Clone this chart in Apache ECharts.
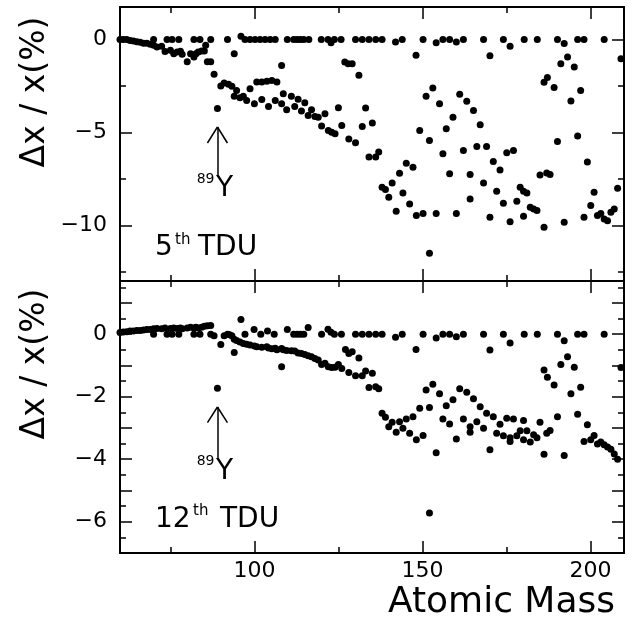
<!DOCTYPE html>
<html>
<head>
<meta charset="utf-8">
<script src="https://cdn.jsdelivr.net/npm/echarts@6/dist/echarts.min.js"></script>
<style>
html,body{margin:0;padding:0;background:#fff;}
#chart{width:633px;height:632px;}
</style>
</head>
<body>
<div id="chart"></div>
<script>
// ---------- data: [atomic mass, Δx/x (%)] ----------
const tdu5Light = [[60,0],[61,0],[62,0],[63,-0.05],[64,-0.08],[65,-0.12],[66,-0.15],[67,-0.2],[68,-0.2],[69,-0.25],
[70,0],[70,-0.31],[71,-0.4],[72.4,-0.36],[73.4,-0.65],[74,0],[75,-0.58],[75.5,0],[76,-0.76],[77,-0.67],[77.5,0],[78,-0.63],[78.5,-0.8],[80,-1.2],[81,-0.76],[82,-0.94],[82,0],[82.6,-0.76],[83.3,-0.67],[83.8,0],[84.3,-0.62],[85.1,-0.62],[85.5,-0.31],[86,-1.2],[87,-1.2],[87,0],[88,-1.87],[89,-3.72],[90,-2.5],[91,-2.34],[92,0],[92.3,-2.41],[93.3,-2.52],[94,-0.76],[94,-3.06],[94.7,-2.74],[96,0.18],[95.7,-3.13],[96.7,-3.06],[97.2,0],[97.7,-3.28],[98.7,-2.65],[98.7,0]];
const tdu5Mid = [[100,-3.46],[100.2,0],[100.7,-2.29],[101.7,0],[102.2,-2.29],[102.2,-3.23],[103.2,0],[103.7,-2.25],[104.2,-3.6],[104.7,0],[105.2,-2.2],[106.2,0],[106.2,-3.28],[106.7,-2.29],[108.1,-1.4],[108.1,-3.46],[108.6,-2.92],[109.6,-3.78],[109.8,0],[111,-3.06],[111.7,0],[112,-3.6],[112.7,0],[113,-3.22],[113.7,0],[114,-3.85],[114.7,0],[115,-3.4],[116,-4.09],[116.2,0],[117,-3.78],[118,-4.14],[119,-4.18],[119.9,0],[120,-4.66],[121,-4.0],[121.9,0],[122,-4.9],[122.8,-0.18],[123,-4.99],[123.8,0],[124,-5.07],[125,-3.67],[125.8,0],[126,-4.63],[126.9,-1.21],[127.9,-1.3],[128.1,-5.35],[129.1,-1.3],[130.1,0],[130.1,-5.56],[131.1,-1.93],[132.1,0],[132.1,-4.68],[133.1,-3.69],[134.1,0],[134.1,-6.33],[135.1,-4.5],[136.1,0],[136.1,-6.33],[137,-6.06],[138,0],[138,-7.95],[139,-8.08],[140,-8.49],[141,-7.72],[142,-0.13],[142.2,-9.25],[143.2,-7.2],[144,0],[144.2,-8.26],[145.2,-6.66],[146.2,-8.85],[147.2,-6.88],[148.1,-0.85],[148.2,-9.48],[149.2,-4.9]];
const tdu5Heavy = [[150.2,0],[150.2,-9.36],[151.1,-3.06],[152.1,-5.43],[152.1,-11.5],[153.1,-2.61],[154.1,-0.18],[154.1,-9.36],[155.1,-3.46],[156.1,0],[156.1,-6.15],[157.1,-4.8],[158.1,0],[158.1,-7.23],[159.1,-4.18],[160.1,-0.13],[160.1,-9.36],[161.1,-2.95],[162.2,0],[162.2,-5.97],[163.2,-3.33],[164.2,-7.27],[164.2,-8.58],[165.2,-3.82],[166.2,-5.76],[167.2,-4.59],[168.2,0],[168.2,-7.72],[169.1,-5.76],[170.1,-0.88],[170.1,-9.57],[171.1,-6.57],[172.1,-8.17],[173.1,-7.02],[174.1,0],[174.1,-8.82],[175.1,-6.1],[176.1,-0.36],[176.1,-9.81],[177.1,-5.97],[178.1,-8.71],[179.1,-7.95],[180.1,-8.17],[180.1,-9.52],[180.3,0],[181.1,-8.26],[182.1,-9.03],[183.1,-9.12],[184.1,-9.21],[184.2,0],[185,-7.29],[186.2,-2.3],[186.2,-10.11],[187,-7.18],[187.2,-2.05],[188,-7.27],[189.2,-2.59],[190.2,0],[190.2,-5.49],[191.2,-1.3],[192.2,-0.22],[192.2,-9.84],[193.2,-0.94],[194.2,-3.31],[195.2,-1.48],[196.2,0],[196.2,-5.2],[197.1,-2.74],[198.1,0],[198.1,-9.57],[199.1,-6.6],[200.1,-8.94],[201.1,-8.22],[202.1,-9.48],[203.1,-9.36],[204.1,0],[204.1,-9.66],[205.1,-9.75],[206.1,-9.3],[207.1,-9.12],[208.1,-8.01],[209.1,-1.04]];

const tdu12Light = [[60,0.05],[61,0.07],[62,0.08],[63,0.1],[64,0.1],[65,0.12],[66,0.12],[67,0.13],[68,0.15],[69,0.15],[70,0.17],[71,0.18],[72.4,0.17],[73.4,0.2],[75,0.18],[76,0.2],[77,0.18],[78,0.2],[78.5,0.17],[80,0.2],[81,0.22],[82,0.2],[82.6,0.22],[83.3,0.2],[84.3,0.22],[85.1,0.25],[86,0.27],[87,0.28],
[70,0],[74,0],[75.5,0],[77.5,0],[82,0],[83.8,0],[87,0],[88,-0.05],[89,-1.73],[90,-0.33],[91,-0.05],[92,0],[92.6,-0.02],[93.3,-0.05],[94,-0.59],[94,-0.16],[94.7,-0.2],[95.7,-0.25],[96,0.47],[96.7,-0.3],[97.2,0],[97.7,-0.32],[98.7,-0.35],[99.9,0.15]];
const tdu12Mid = [[100,-0.38],[100.7,-0.4],[101.9,0],[102.2,-0.42],[103.7,-0.4],[103.9,0.1],[104.2,-0.44],[105.2,-0.47],[105.9,0],[106.2,-0.45],[106.7,-0.5],[108.1,-1.04],[108.1,-0.46],[108.6,-0.5],[109.6,-0.52],[109.8,0.15],[111,-0.53],[111.7,0],[112,-0.54],[112.7,0],[113,-0.6],[113.7,0],[114,-0.62],[114.7,0],[115,-0.65],[116,0.21],[116,-0.69],[117,-0.72],[118,-0.78],[119,-0.83],[120,0],[120,-0.97],[121,-0.93],[121.9,0.16],[122,-1.04],[122.8,0.06],[123,-1.07],[123.8,0],[124,-1.06],[125,-0.97],[125.9,0],[126,-1.1],[127.1,-0.49],[128.1,-0.62],[128.1,-1.23],[129.1,-0.56],[130.1,0],[130.1,-1.33],[131.1,-0.76],[132.1,0],[132.1,-1.33],[133.1,-1.18],[134.1,0],[134.1,-1.71],[135.1,-1.25],[136.1,0],[136.1,-1.68],[137,-1.75],[138,0],[138,-2.53],[139,-2.66],[140,-2.96],[141,-2.82],[142,-0.1],[142.2,-3.14],[143.2,-2.8],[144,0],[144.2,-3.01],[145.2,-2.71],[146.2,-3.17],[147.2,-2.64],[148.1,-0.49],[148.2,-3.38],[149.2,-2.37]];
const tdu12Heavy = [[150.2,0],[150.2,-3.24],[151.1,-1.79],[152.1,-2.35],[152.1,-5.72],[153.1,-1.6],[154.1,-0.12],[154.1,-3.79],[155.1,-1.91],[156.1,0],[156.1,-2.71],[157.1,-2.29],[158.1,0],[158.1,-2.87],[159.1,-2.1],[160.1,-0.08],[160.1,-3.35],[161.1,-1.75],[162.2,0],[162.2,-2.71],[163.2,-1.86],[164.2,-2.96],[164.2,-3.14],[165.2,-2.07],[166.2,-2.8],[167.2,-2.32],[168.2,0],[168.2,-3.01],[169.1,-2.53],[170.1,-0.51],[170.1,-3.7],[171.1,-2.64],[172.1,-3.17],[173.1,-2.88],[174.1,0],[174.1,-3.25],[175.1,-2.69],[176.1,-0.28],[176.1,-3.31],[176.1,-3.43],[177.1,-2.71],[178.1,-3.25],[179.1,-3.09],[180.1,-2.76],[180.1,-3.38],[180.3,0],[181.1,-3.09],[182.1,-3.45],[183.1,-3.22],[184.1,-3.31],[184.2,0],[185,-2.82],[186.2,-1.15],[186.2,-3.84],[187,-3.17],[187.2,-1.38],[188,-3.08],[189.2,-1.63],[190.2,0],[190.2,-2.64],[191.2,-0.97],[192.2,-0.21],[192.2,-3.88],[193.2,-0.72],[194.2,-1.91],[195.2,-1.06],[196.2,0],[196.2,-2.56],[197.1,-1.7],[198.1,0],[198.1,-3.43],[199.1,-2.9],[200.1,-3.38],[201.1,-3.24],[202.1,-3.51],[203.1,-3.45],[204.1,0],[204.1,-3.54],[205.1,-3.61],[206.1,-3.68],[207.1,-3.83],[208.1,-4.0],[209.1,-1.07]];

// axis ticks / labels
const xMajorTicks = [100, 150, 200];
const xMinorTicks = [75, 125, 175];
const xTickLabels = [100, 150, 200];
const y5Major = [0, -5, -10];
const y5Minor = [-2.5, -7.5, -12.5];
const y5Labels = [0, -5, -10];
const y12Major = [1, 0, -1, -2, -3, -4, -5, -6];
const y12Minor = [1.5, 0.5, -0.5, -1.5, -2.5, -3.5, -4.5, -5.5, -6.5];
const y12Labels = [0, -2, -4, -6];

// ---------- layout / style ----------
const FONT = 'DejaVu Sans';
const X_MIN = 60, X_MAX = 210;
const Y5 = [-13, 1.75], Y12 = [-7, 1.7];
const grids = [
  { left: 120, right: 9, top: 7, height: 274 },
  { left: 120, right: 9, top: 281, height: 272 }
];
const LONG = 12, SHORT = 6;

function xAx(g, pos, ticks, len, labels) {
  return {
    type: 'value', gridIndex: g, position: pos, min: X_MIN, max: X_MAX,
    axisLine: { show: true, onZero: false, lineStyle: { color: '#000', width: 2 } },
    axisTick: { show: true, inside: true, length: len, customValues: ticks, lineStyle: { color: '#000', width: 1.5 } },
    axisLabel: labels ? { show: true, customValues: labels, margin: 7, color: '#000', fontFamily: FONT, fontSize: 22 } : { show: false },
    splitLine: { show: false }
  };
}
function yAx(g, pos, range, ticks, len, labels) {
  return {
    type: 'value', gridIndex: g, position: pos, min: range[0], max: range[1],
    axisLine: { show: true, onZero: false, lineStyle: { color: '#000', width: 2 } },
    axisTick: { show: true, inside: true, length: len, customValues: ticks, lineStyle: { color: '#000', width: 1.5 } },
    axisLabel: labels ? { show: true, customValues: labels, margin: 13, color: '#000', fontFamily: FONT, fontSize: 22,
      formatter: v => (v < 0 ? '\u2212' + Math.abs(v) : String(v)) } : { show: false },
    splitLine: { show: false }
  };
}

const xAxes = [
  xAx(0, 'bottom', xMajorTicks, LONG), xAx(0, 'bottom', xMinorTicks, SHORT),
  xAx(0, 'top', xMajorTicks, LONG), xAx(0, 'top', xMinorTicks, SHORT),
  xAx(1, 'bottom', xMajorTicks, LONG, xTickLabels), xAx(1, 'bottom', xMinorTicks, SHORT),
  xAx(1, 'top', xMajorTicks, LONG), xAx(1, 'top', xMinorTicks, SHORT)
];
const yAxes = [
  yAx(0, 'left', Y5, y5Major, LONG, y5Labels), yAx(0, 'left', Y5, y5Minor, SHORT),
  yAx(0, 'right', Y5, y5Major, LONG), yAx(0, 'right', Y5, y5Minor, SHORT),
  yAx(1, 'left', Y12, y12Major, LONG, y12Labels), yAx(1, 'left', Y12, y12Minor, SHORT),
  yAx(1, 'right', Y12, y12Major, LONG), yAx(1, 'right', Y12, y12Minor, SHORT)
];

// arrow annotations (data coords): tip, tail, head half-width (mass), head drop (Δ)
const arrow5 = { mass: 89, tip: -4.71, tail: -7.40, hw: 2.97, hd: 0.86 };
const arrow12 = { mass: 89, tip: -2.33, tail: -4.02, hw: 2.97, hd: 0.50 };
function arrowLines(a) {
  return [
    [{ coord: [a.mass, a.tip] }, { coord: [a.mass, a.tail] }],
    [{ coord: [a.mass, a.tip] }, { coord: [a.mass - a.hw, a.tip - a.hd] }],
    [{ coord: [a.mass, a.tip] }, { coord: [a.mass + a.hw, a.tip - a.hd] }]
  ];
}
function scatter(xi, yi, data, arrow) {
  return {
    type: 'scatter', xAxisIndex: xi, yAxisIndex: yi, data: data,
    symbol: 'circle', symbolSize: 7, itemStyle: { color: '#000', opacity: 1 }, silent: true,
    markLine: arrow ? { silent: true, symbol: ['none', 'none'], label: { show: false },
      lineStyle: { color: '#000', width: 1.5, type: 'solid', opacity: 1 }, data: arrowLines(arrow) } : undefined
  };
}

const chart = echarts.init(document.getElementById('chart'), null, { renderer: 'canvas' });
chart.setOption({
  animation: false,
  backgroundColor: '#fff',
  grid: grids,
  xAxis: xAxes,
  yAxis: yAxes,
  series: [
    scatter(0, 0, tdu5Light, arrow5), scatter(0, 0, tdu5Mid), scatter(0, 0, tdu5Heavy),
    scatter(4, 4, tdu12Light, arrow12), scatter(4, 4, tdu12Mid), scatter(4, 4, tdu12Heavy)
  ]
});

// text annotations positioned from the axes
const p5 = chart.convertToPixel({ xAxisIndex: 0, yAxisIndex: 0 }, [arrow5.mass, arrow5.tail]);
const p12 = chart.convertToPixel({ xAxisIndex: 4, yAxisIndex: 4 }, [arrow12.mass, arrow12.tail]);
function txt(x, y, s, size, align, rot) {
  return { type: 'text', x: x, y: y, rotation: rot || 0, silent: true,
    style: { text: s, fill: '#000', font: size + 'px "' + FONT + '"', textAlign: align || 'left', textVerticalAlign: 'middle' } };
}
chart.setOption({
  graphic: [
    txt(35, 92, 'Δx / x(%)', 33, 'center', Math.PI / 2),
    txt(35, 364, 'Δx / x(%)', 33, 'center', Math.PI / 2),
    txt(615, 603, 'Atomic Mass', 36, 'right'),
    txt(155, 248, '5', 28), txt(175, 240, 'th', 15), txt(198, 248, 'TDU', 28),
    txt(155, 520, '12', 28), txt(193, 511, 'th', 15), txt(220, 520, 'TDU', 28),
    txt(p5[0] - 3, p5[1] + 2, '89', 14, 'right'), txt(p5[0] + 7, p5[1] + 12, 'Y', 28, 'center'),
    txt(p12[0] - 3, p12[1] + 2, '89', 14, 'right'), txt(p12[0] + 7, p12[1] + 12, 'Y', 28, 'center')
  ]
});
</script>
</body>
</html>
